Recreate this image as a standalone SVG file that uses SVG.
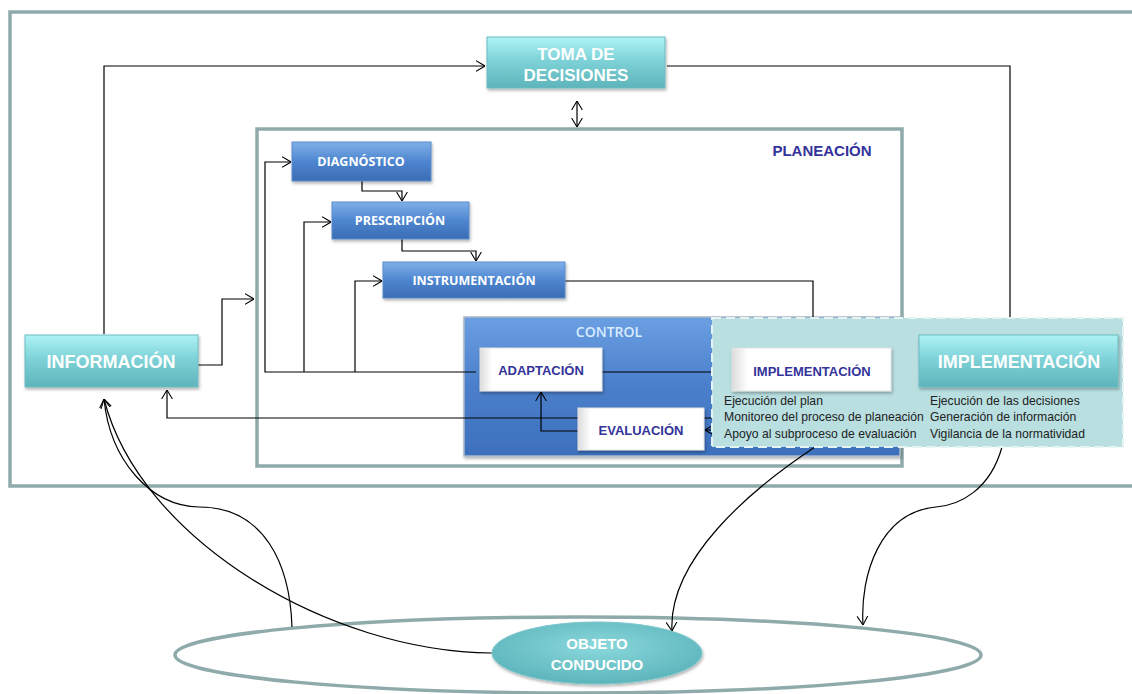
<svg xmlns="http://www.w3.org/2000/svg" width="1132" height="694" viewBox="0 0 1132 694">
<style>
.frame{fill:none;stroke:#8eaaab;stroke-width:3.5}
.c{fill:none;stroke:#000;stroke-width:1.2}
.teal{fill:url(#gTeal);stroke:#6cbcc1;stroke-width:1;filter:url(#sh)}
.blue{fill:url(#gBlue);stroke:#5b8bcc;stroke-width:1;filter:url(#sh)}
.white{fill:url(#gWhite);stroke:#e2e2e2;stroke-width:1;filter:url(#sh)}
.tw{font-family:"Liberation Sans",Arial,sans-serif;font-weight:bold;fill:#fff;text-anchor:middle}
.tb{font-family:"Open Sans","Liberation Sans",sans-serif;font-weight:bold;fill:#fff;text-anchor:middle;font-size:12.5px}
.td{font-family:"Liberation Sans",Arial,sans-serif;font-weight:bold;fill:#33339a;text-anchor:middle;font-size:13px}
.small{font-family:"Liberation Sans",Arial,sans-serif;font-size:12.2px;fill:#222}
</style>
<defs>
<linearGradient id="gTeal" x1="0" y1="0" x2="0" y2="1">
<stop offset="0" stop-color="#aef3f5"/><stop offset="0.45" stop-color="#7fd3d8"/><stop offset="1" stop-color="#5db4ba"/>
</linearGradient>
<linearGradient id="gBlue" x1="0" y1="0" x2="0" y2="1">
<stop offset="0" stop-color="#7fb0e8"/><stop offset="0.5" stop-color="#4e86d0"/><stop offset="1" stop-color="#3a6cb3"/>
</linearGradient>
<linearGradient id="gCtrl" x1="0" y1="0" x2="0" y2="1">
<stop offset="0" stop-color="#6b9fe2"/><stop offset="0.5" stop-color="#4a7fcb"/><stop offset="1" stop-color="#3d70bd"/>
</linearGradient>
<linearGradient id="gWhite" x1="0" y1="0" x2="1" y2="0">
<stop offset="0" stop-color="#dcdcdc"/><stop offset="0.1" stop-color="#ffffff"/><stop offset="1" stop-color="#ffffff"/>
</linearGradient>
<radialGradient id="gObj" cx="0.5" cy="0.4" r="0.6">
<stop offset="0" stop-color="#8ad8dc"/><stop offset="1" stop-color="#5cb5bb"/>
</radialGradient>
<filter id="sh" x="-10%" y="-10%" width="130%" height="140%">
<feDropShadow dx="1" dy="2" stdDeviation="1.5" flood-color="#000" flood-opacity="0.3"/>
</filter>
<marker id="ar" viewBox="0 0 10 12" refX="10" refY="6" markerWidth="9" markerHeight="12" orient="auto-start-reverse" markerUnits="userSpaceOnUse">
<path d="M0,0 L10,6 L0,12" fill="none" stroke="#000" stroke-width="1.2"/>
</marker>
</defs>
<rect width="1132" height="694" fill="#fff"/>

<g id="frames">
<rect class="frame" x="10" y="12" width="1140" height="474"/>
<rect class="frame" x="257" y="129" width="645" height="337"/>
<text x="822" y="156" font-family="Liberation Sans,Arial,sans-serif" font-weight="bold" font-size="15" fill="#33339a" text-anchor="middle">PLANEACIÓN</text>
<ellipse cx="578" cy="655" rx="403" ry="38" fill="#fff" stroke="#8eaaab" stroke-width="3.5"/>
</g>

<g id="control">
<rect x="464" y="317" width="436" height="139" fill="url(#gCtrl)" stroke="#aab8c8" stroke-width="1.5" filter="url(#sh)"/>
<text x="609" y="337" font-family="Open Sans,Liberation Sans,sans-serif" font-size="14" font-weight="600" fill="#d8ecff" text-anchor="middle">CONTROL</text>
</g>

<g id="connectors">
<path class="c" d="M104,334 V66 H485" marker-end="url(#ar)"/>
<path class="c" d="M667,66 H1010 V317"/>
<path class="c" d="M577,101 V127" marker-start="url(#ar)" marker-end="url(#ar)"/>
<path class="c" d="M565,281 H813 V317"/>
<path class="c" d="M362,181 V191 H402 V201" marker-end="url(#ar)"/>
<path class="c" d="M402,239 V251 H476 V261" marker-end="url(#ar)"/>
<path class="c" d="M476,372 H265 V162 H291" marker-end="url(#ar)"/>
<path class="c" d="M304,372 V222 H331" marker-end="url(#ar)"/>
<path class="c" d="M355,372 V281 H382" marker-end="url(#ar)"/>
<path class="c" d="M188,365 H222 V299 H254" marker-end="url(#ar)"/>
<path class="c" d="M602,372 H732"/>
<path class="c" d="M712,418 H167 V390" marker-end="url(#ar)"/>
<path class="c" d="M714,430 H705" marker-end="url(#ar)"/>
<path class="c" d="M580,431 H541 V392" marker-end="url(#ar)"/>
<path class="c" d="M815,447 C750,490 668,560 672,631" marker-end="url(#ar)"/>
<path class="c" d="M1002,447 C990,490 960,505 936,507 C880,512 860,575 863,625" marker-end="url(#ar)"/>
<path class="c" d="M292,627 C290,565 265,507 199,507 C150,506 110,460 104,399" marker-end="url(#ar)"/>
<path class="c" d="M492,653 C330,652 140,540 104,399" marker-end="url(#ar)"/>
</g>

<g id="panel">
<rect x="712" y="318" width="411" height="129" fill="#b9dfe1" stroke="#e6f3f3" stroke-width="2" stroke-dasharray="9 5"/>
<text class="small" x="724" y="405">Ejecución del plan</text>
<text class="small" x="724" y="421">Monitoreo del proceso de planeación</text>
<text class="small" x="724" y="438">Apoyo al subproceso de evaluación</text>
<text class="small" x="930" y="405">Ejecución de las decisiones</text>
<text class="small" x="930" y="421">Generación de información</text>
<text class="small" x="930" y="438">Vigilancia de la normatividad</text>
</g>

<g id="toma">
<rect class="teal" x="487" y="37" width="178" height="51"/>
<text class="tw" x="576" y="60" font-size="17">TOMA DE</text>
<text class="tw" x="576" y="81" font-size="17">DECISIONES</text>
</g>
<g id="informacion">
<rect class="teal" x="25" y="335" width="173" height="52"/>
<text class="tw" x="111" y="368" font-size="18">INFORMACIÓN</text>
</g>
<g id="implementacion-main">
<rect class="teal" x="919" y="335" width="199" height="52"/>
<text class="tw" x="1019" y="368" font-size="18">IMPLEMENTACIÓN</text>
</g>
<g id="diagnostico">
<rect class="blue" x="292" y="142" width="139" height="39"/>
<text class="tb" x="361" y="166">DIAGNÓSTICO</text>
</g>
<g id="prescripcion">
<rect class="blue" x="332" y="202" width="137" height="37"/>
<text class="tb" x="400" y="225">PRESCRIPCIÓN</text>
</g>
<g id="instrumentacion">
<rect class="blue" x="383" y="262" width="182" height="36"/>
<text class="tb" x="474" y="285">INSTRUMENTACIÓN</text>
</g>
<g id="adaptacion">
<rect class="white" x="480" y="348" width="122" height="43"/>
<text class="td" x="541" y="375">ADAPTACIÓN</text>
</g>
<g id="evaluacion">
<rect class="white" x="578" y="408" width="126" height="42"/>
<text class="td" x="641" y="435">EVALUACIÓN</text>
</g>
<g id="implementacion-inner">
<rect class="white" x="732" y="348" width="159" height="43"/>
<text class="td" x="812" y="376" font-size="12.5">IMPLEMENTACIÓN</text>
</g>
<g id="objeto">
<ellipse cx="597" cy="653" rx="105" ry="31" fill="url(#gObj)" stroke="#7cc6cb" stroke-width="1" filter="url(#sh)"/>
<text class="tw" x="597" y="649" font-size="15">OBJETO</text>
<text class="tw" x="597" y="670" font-size="15">CONDUCIDO</text>
</g>
</svg>
